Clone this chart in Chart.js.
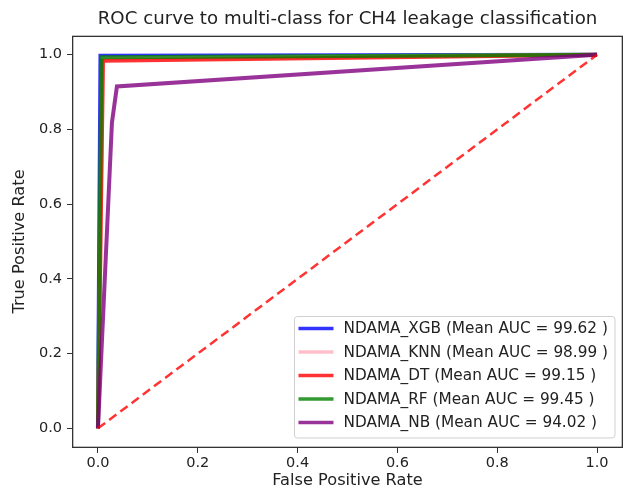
<!DOCTYPE html>
<html>
<head>
<meta charset="utf-8">
<script src="https://cdn.jsdelivr.net/npm/chart.js@4/dist/chart.umd.min.js"></script>
<style>
  html, body { margin: 0; padding: 0; background: #fff; }
  #wrap { width: 629px; height: 491px; }
</style>
</head>
<body>
<div id="wrap"><canvas id="roc" width="629" height="491"></canvas></div>
<script>
// ── data ──
const TITLE = 'ROC curve to multi-class for CH4 leakage classification';
const MODELS = ['NDAMA_XGB', 'NDAMA_KNN', 'NDAMA_DT', 'NDAMA_RF', 'NDAMA_NB'];
const MEAN_AUC = [99.62, 98.99, 99.15, 99.45, 94.02];
const COLORS = ['rgba(0,0,255,0.8)', '#ffc0cb', 'rgba(255,0,0,0.8)', 'rgba(0,128,0,0.8)', 'rgba(128,0,128,0.8)'];

const FPR_XGB = [0, 0.005, 1];
const TPR_XGB = [0, 0.997, 1];
const FPR_KNN = [0, 0.01, 1];
const TPR_KNN = [0, 0.99, 1];
const FPR_DT = [0, 0.01, 1];
const TPR_DT = [0, 0.984, 1];
const FPR_RF = [0, 0.007, 1];
const TPR_RF = [0, 0.993, 1];
const FPR_NB = [0, 0.028, 0.038, 1];
const TPR_NB = [0, 0.818, 0.915, 1];
const CHANCE_X = [0, 1];
const CHANCE_Y = [0, 1];

const TICKS = [0, 0.2, 0.4, 0.6, 0.8, 1.0];

const FONT = "'DejaVu Sans', sans-serif";
const zip = (xs, ys) => xs.map((x, i) => ({ x, y: ys[i] }));

const curves = [
  [FPR_XGB, TPR_XGB], [FPR_KNN, TPR_KNN], [FPR_DT, TPR_DT], [FPR_RF, TPR_RF], [FPR_NB, TPR_NB],
];

const datasets = curves.map(([fx, ty], i) => ({
  label: `${MODELS[i]} (Mean AUC = ${MEAN_AUC[i].toFixed(2)} )`,
  data: zip(fx, ty),
  borderColor: COLORS[i],
  borderWidth: 4,
  showLine: true,
  pointRadius: 0,
  order: curves.length - i + 1,   // later curves drawn on top, like matplotlib
}));

datasets.push({
  label: 'chance',
  data: zip(CHANCE_X, CHANCE_Y),
  borderColor: 'rgba(255,0,0,0.8)',
  borderWidth: 2.5,
  borderDash: [9, 5],
  showLine: true,
  pointRadius: 0,
  order: 0,
  hideInLegend: true,
});

/** Frame round the axes and the title centred over the plot area. */
const framePlugin = {
  id: 'axesFrame',
  afterDraw(chart) {
    const { ctx, chartArea: a } = chart;
    const l = Math.round(a.left), r = Math.round(a.right);
    const t = Math.round(a.top), b = Math.round(a.bottom);
    ctx.save();
    ctx.fillStyle = '#333';
    ctx.fillRect(l - 1, t, 1.3, b - t + 1);      // left
    ctx.fillRect(r - 0.3, t, 1.3, b - t + 1);    // right
    ctx.fillRect(l - 1, t - 0.3, r - l + 2, 1.3); // top
    ctx.fillRect(l - 1, b - 0.3, r - l + 2, 1.3); // bottom

    ctx.fillStyle = '#222';
    ctx.font = `18.2px ${FONT}`;
    ctx.textAlign = 'center';
    ctx.textBaseline = 'middle';
    ctx.fillText(TITLE, (a.left + a.right) / 2, 19);
    ctx.restore();
  },
};

/** Legend box in the lower right corner of the plot area. */
const insideLegend = {
  id: 'insideLegend',
  afterDraw(chart) {
    const { ctx, chartArea: a } = chart;
    const items = chart.data.datasets.filter(d => !d.hideInLegend);
    ctx.save();
    ctx.font = `15.3px ${FONT}`;
    const textW = Math.max(...items.map(d => ctx.measureText(d.label).width));
    const rowH = 23.5;
    const w = 49 + textW + 7;
    const h = items.length * rowH + 4;
    const x = a.right - 7 - w;
    const y = a.bottom - 9 - h;

    ctx.beginPath();
    ctx.roundRect(x, y, w, h, 3);
    ctx.fillStyle = 'rgba(255,255,255,0.8)';
    ctx.fill();
    ctx.strokeStyle = '#d0d0d0';
    ctx.lineWidth = 1;
    ctx.stroke();

    items.forEach((d, i) => {
      const cy = y + 12 + i * rowH;
      ctx.beginPath();
      ctx.moveTo(x + 4, cy);
      ctx.lineTo(x + 39, cy);
      ctx.strokeStyle = d.borderColor;
      ctx.lineWidth = 3.5;
      ctx.stroke();
      ctx.fillStyle = '#222';
      ctx.textBaseline = 'middle';
      ctx.fillText(d.label, x + 49, cy + 1);
    });
    ctx.restore();
  },
};

const axisCommon = {
  type: 'linear',
  min: -0.05,
  max: 1.05,
  afterBuildTicks: axis => { axis.ticks = TICKS.map(v => ({ value: v })); },
  grid: { display: true, drawOnChartArea: false, drawTicks: true, tickLength: 6, color: '#333' },
  border: { display: false },
};

const tickFont = { family: FONT, size: 14.5 };
const labelFont = { family: FONT, size: 16.2 };

Chart.defaults.font.family = FONT;
Chart.defaults.color = '#222';

new Chart(document.getElementById('roc'), {
  type: 'scatter',
  data: { datasets },
  options: {
    responsive: false,
    animation: false,
    layout: { padding: { left: 0, right: 7, top: 36, bottom: 0 } },
    scales: {
      x: {
        ...axisCommon,
        afterFit: s => { s.height = 44; },
        ticks: { color: '#222', padding: 2, font: tickFont, callback: v => v.toFixed(1) },
        title: { display: true, text: 'False Positive Rate', color: '#222', font: labelFont, padding: { top: 0, bottom: 0 } },
      },
      y: {
        ...axisCommon,
        afterFit: s => { s.width = 73; },
        ticks: { color: '#222', padding: 5, font: tickFont, callback: v => v.toFixed(1) },
        title: { display: true, text: 'True Positive Rate', color: '#222', font: labelFont, padding: { top: 10, bottom: 0 } },
      },
    },
    plugins: {
      legend: { display: false },
      tooltip: { enabled: false },
      title: { display: false },
    },
  },
  plugins: [framePlugin, insideLegend],
});
</script>
</body>
</html>
